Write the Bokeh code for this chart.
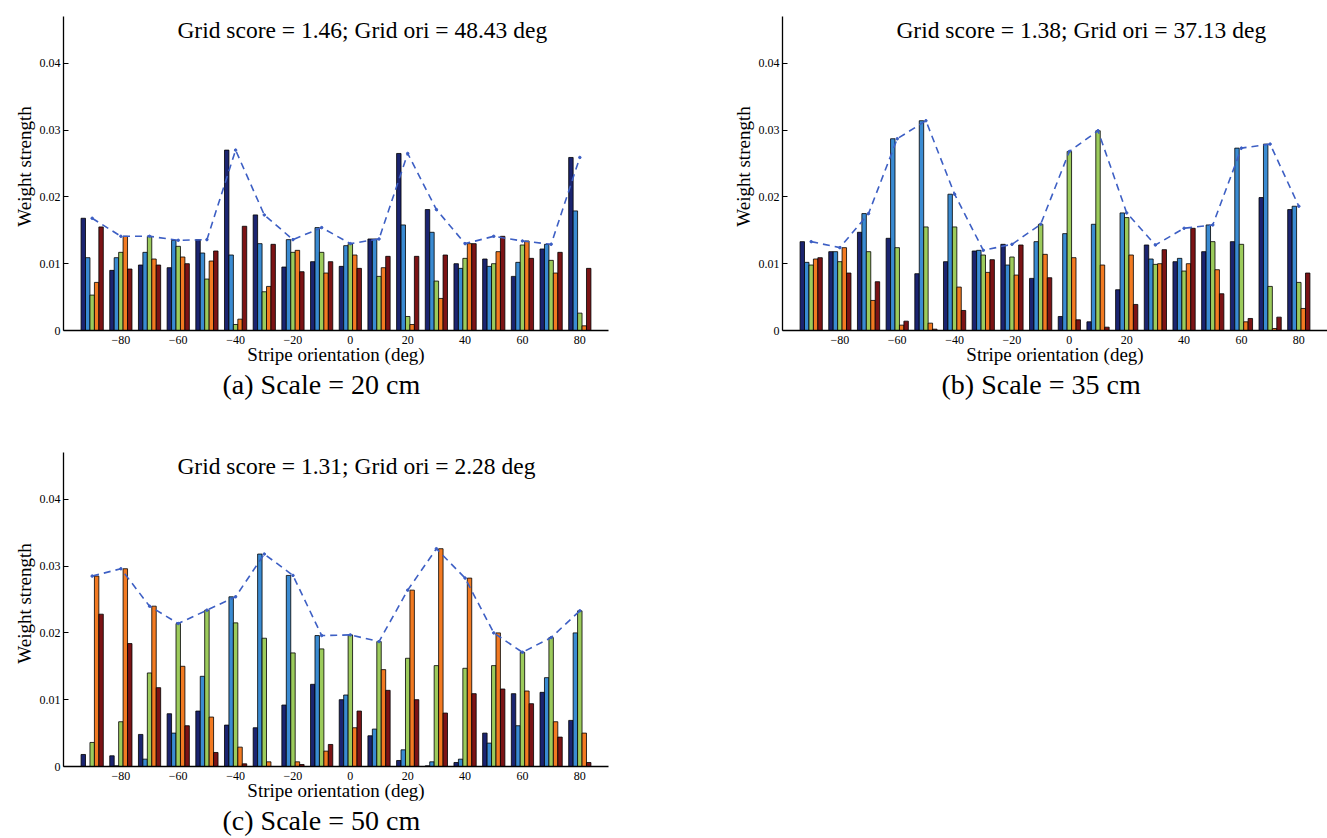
import numpy as np
from bokeh.plotting import figure
from bokeh.models import ColumnDataSource, Range1d, FixedTicker, Label, Title
from bokeh.layouts import row, column
from bokeh.transform import dodge
from bokeh.embed import file_html
from bokeh.resources import INLINE

orientations = [-90, -80, -70, -60, -50, -40, -30, -20, -10, 0, 10, 20, 30, 40, 50, 60, 70, 80]
tick_values = [-80, -60, -40, -20, 0, 20, 40, 60, 80]
tick_labels = ["\u221280", "\u221260", "\u221240", "\u221220", "0", "20", "40", "60", "80"]
y_ticks = [0, 0.01, 0.02, 0.03, 0.04]
y_tick_labels = ["0", "0.01", "0.02", "0.03", "0.04"]

# Panel (a) Scale = 20 cm
a_navy = [0.0168, 0.0090, 0.0098, 0.0094, 0.0136, 0.0270, 0.0173, 0.0095, 0.0103, 0.0096, 0.0137, 0.0265, 0.0181, 0.0100, 0.0107, 0.0081, 0.0122, 0.0259]
a_blue = [0.0109, 0.0109, 0.0117, 0.0135, 0.0116, 0.0113, 0.0130, 0.0136, 0.0154, 0.0127, 0.0137, 0.0158, 0.0147, 0.0093, 0.0096, 0.0102, 0.0129, 0.0179]
a_green = [0.0053, 0.0117, 0.0141, 0.0126, 0.0077, 0.0009, 0.0058, 0.0117, 0.0117, 0.0130, 0.0081, 0.0021, 0.0074, 0.0108, 0.0100, 0.0128, 0.0105, 0.0026]
a_orange = [0.0072, 0.0141, 0.0107, 0.0110, 0.0104, 0.0017, 0.0066, 0.0120, 0.0086, 0.0113, 0.0094, 0.0009, 0.0048, 0.0130, 0.0118, 0.0134, 0.0086, 0.0007]
a_dred = [0.0155, 0.0092, 0.0098, 0.0100, 0.0119, 0.0156, 0.0129, 0.0088, 0.0103, 0.0093, 0.0111, 0.0111, 0.0113, 0.0130, 0.0141, 0.0108, 0.0117, 0.0093]

# Panel (b) Scale = 35 cm
b_navy = [0.0133, 0.0118, 0.0147, 0.0138, 0.0085, 0.0103, 0.0119, 0.0129, 0.0078, 0.0021, 0.0013, 0.0061, 0.0128, 0.0103, 0.0118, 0.0133, 0.0199, 0.0181]
b_blue = [0.0102, 0.0118, 0.0175, 0.0287, 0.0314, 0.0204, 0.0120, 0.0098, 0.0133, 0.0145, 0.0159, 0.0176, 0.0107, 0.0108, 0.0158, 0.0273, 0.0279, 0.0186]
b_green = [0.0098, 0.0103, 0.0118, 0.0124, 0.0155, 0.0155, 0.0113, 0.0110, 0.0159, 0.0268, 0.0299, 0.0169, 0.0099, 0.0089, 0.0133, 0.0129, 0.0066, 0.0072]
b_orange = [0.0107, 0.0124, 0.0045, 0.0008, 0.0011, 0.0065, 0.0087, 0.0083, 0.0114, 0.0109, 0.0098, 0.0113, 0.0100, 0.0100, 0.0091, 0.0013, 0.0003, 0.0033]
b_dred = [0.0109, 0.0086, 0.0073, 0.0014, 0.0002, 0.0030, 0.0106, 0.0128, 0.0079, 0.0016, 0.0005, 0.0039, 0.0121, 0.0153, 0.0055, 0.0018, 0.0020, 0.0086]

# Panel (c) Scale = 50 cm
c_navy = [0.0018, 0.0016, 0.0048, 0.0079, 0.0083, 0.0062, 0.0058, 0.0092, 0.0123, 0.0100, 0.0046, 0.0009, 0.0001, 0.0006, 0.0050, 0.0109, 0.0111, 0.0069]
c_blue = [0.0000, 0.0001, 0.0011, 0.0050, 0.0135, 0.0254, 0.0318, 0.0286, 0.0196, 0.0107, 0.0056, 0.0025, 0.0007, 0.0011, 0.0035, 0.0061, 0.0133, 0.0200]
c_green = [0.0036, 0.0067, 0.0140, 0.0214, 0.0234, 0.0215, 0.0192, 0.0170, 0.0176, 0.0197, 0.0187, 0.0162, 0.0151, 0.0147, 0.0151, 0.0171, 0.0193, 0.0233]
c_orange = [0.0285, 0.0296, 0.0240, 0.0150, 0.0074, 0.0029, 0.0007, 0.0007, 0.0023, 0.0058, 0.0145, 0.0264, 0.0326, 0.0282, 0.0200, 0.0113, 0.0067, 0.0050]
c_dred = [0.0228, 0.0184, 0.0118, 0.0061, 0.0021, 0.0004, 0.0000, 0.0003, 0.0033, 0.0083, 0.0114, 0.0100, 0.0080, 0.0109, 0.0116, 0.0094, 0.0044, 0.0006]

titles = ["Grid score = 1.46; Grid ori = 48.43 deg",
          "Grid score = 1.38; Grid ori = 37.13 deg",
          "Grid score = 1.31; Grid ori = 2.28 deg"]
captions = ["(a) Scale = 20 cm", "(b) Scale = 35 cm", "(c) Scale = 50 cm"]

bar_colors = ["#1b2470", "#3a8bd2", "#9ccb5c", "#f27a22", "#7c1315"]
FONT = "'Liberation Serif', 'Times New Roman', serif"
BAR_W = 1.55
offsets = [-2 * BAR_W, -BAR_W, 0, BAR_W, 2 * BAR_W]
Y_AXIS_TOP = 0.047
PX_PER_UNIT = 314 / 0.047


def make_panel(series, title_text, caption, w, h, ml, mr, mt, mb, axis_top_px):
    frame_h = h - mt - mb
    y_top = frame_h / PX_PER_UNIT
    p = figure(width=w, height=h, x_range=Range1d(-100, 90), y_range=Range1d(0, y_top),
               output_backend="svg", toolbar_location=None,
               min_border_left=ml, min_border_right=mr, min_border_top=mt, min_border_bottom=mb)
    p.outline_line_color = None
    p.xgrid.grid_line_color = None
    p.ygrid.grid_line_color = None
    p.background_fill_color = "white"

    data = dict(x=orientations)
    for i, s in enumerate(series):
        data["s%d" % i] = s
    src = ColumnDataSource(data)
    for i in range(5):
        p.vbar(x=dodge("x", offsets[i]), top="s%d" % i, width=BAR_W, bottom=0, source=src,
               fill_color=bar_colors[i], line_color="black", line_width=0.8)

    maxima = np.max(np.array(series), axis=0)
    p.line(orientations, maxima, line_color="#3d5fc4", line_width=1.6, line_dash="7 5")
    p.scatter(orientations, maxima, size=2.5, color="#3d5fc4")

    p.xaxis.ticker = FixedTicker(ticks=tick_values)
    p.xaxis.major_label_overrides = {v: l for v, l in zip(tick_values, tick_labels)}
    p.yaxis.ticker = FixedTicker(ticks=y_ticks)
    p.yaxis.major_label_overrides = {v: l for v, l in zip(y_ticks, y_tick_labels)}
    p.yaxis.bounds = (0, Y_AXIS_TOP)
    for ax in (p.xaxis[0], p.yaxis[0]):
        ax.axis_line_color = "black"
        ax.axis_line_width = 1.3
        ax.major_tick_line_color = "black"
        ax.minor_tick_line_color = None
        ax.major_label_text_font = FONT
        ax.major_label_text_font_size = "12px"
        ax.major_label_text_color = "black"
        ax.axis_label_text_font = FONT
        ax.axis_label_text_font_style = "normal"
        ax.axis_label_text_font_size = "19px"
        ax.axis_label_text_color = "black"
    p.xaxis.major_tick_in = 0
    p.xaxis.major_tick_out = 0
    p.yaxis.major_tick_in = 5
    p.yaxis.major_tick_out = 0
    p.xaxis.major_label_standoff = 5
    p.yaxis.major_label_standoff = 3
    p.xaxis.axis_label = "Stripe orientation (deg)"
    p.yaxis.axis_label = "Weight strength"
    p.xaxis.axis_label_standoff = -3
    p.yaxis.axis_label_standoff = 2

    # title baseline sits ~13 px below the top end of the y axis
    p.add_layout(Label(x=-60.3, y=Y_AXIS_TOP - 13 / PX_PER_UNIT, text=title_text, text_font=FONT,
                       text_font_size="23.5px", text_align="left", text_baseline="alphabetic",
                       text_color="black"))
    p.add_layout(Title(text=caption, align="left", offset=159, text_font=FONT,
                       text_font_size="28px", text_font_style="normal", text_color="black",
                       standoff=-2), "below")
    return p


pa = make_panel([a_navy, a_blue, a_green, a_orange, a_dred], titles[0], captions[0],
                700, 440, 63, 92, 2, 110, 16)
pb = make_panel([b_navy, b_blue, b_green, b_orange, b_dred], titles[1], captions[1],
                627, 440, 82, 0, 2, 110, 16)
pc = make_panel([c_navy, c_blue, c_green, c_orange, c_dred], titles[2], captions[2],
                700, 398, 63, 92, 0, 72, 453)

layout = column(row(pa, pb, spacing=0), pc, spacing=0)

open("out.html", "w").write(file_html(layout, INLINE))
